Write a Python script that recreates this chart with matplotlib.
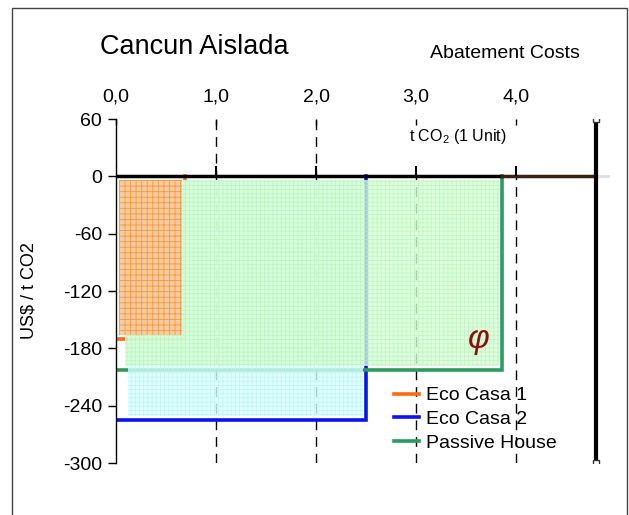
import matplotlib
matplotlib.use("Agg")
import matplotlib.pyplot as plt
from matplotlib.patches import Rectangle
from matplotlib.lines import Line2D

plt.rcParams['font.family'] = ['Liberation Sans', 'DejaVu Sans']
plt.rcParams['axes.unicode_minus'] = False
plt.rcParams['mathtext.fontset'] = 'custom'
plt.rcParams['mathtext.rm'] = 'Liberation Sans'
plt.rcParams['hatch.linewidth'] = 0.6

# data
series = ["Eco Casa 1", "Eco Casa 2", "Passive House"]
amount = [0.69, 2.50, 3.86]        # t CO2 (cumulative end of step)
cost = [-170, -255, -203]          # US$ / t CO2
line_col = ["#ff6a13", "#0a14f0", "#2e9a60"]
fill_col = ["#f9c89a", "#d6ffff", "#d4ffd4"]
hatch_col = ["#f5953a", "#bff2f0", "#bdf2bd"]
xticks = [0, 1, 2, 3, 4]
yticks = [-300, -240, -180, -120, -60, 0, 60]
x_end = 4.8

fig = plt.figure(figsize=(6.29, 5.15), dpi=100)
ax = fig.add_axes([116/629, 52/515, 500/629, 344/515])
ax.set_xlim(0, 5.0)
ax.set_ylim(-300, 60)

# dashed verticals
for t in xticks[1:]:
    top = 60 if t < 3 else 0
    ax.plot([t, t], [-300, top], color='black', lw=1, ls=(0, (7, 5)), zorder=1)

# step lines
for i in range(len(series)):
    ax.plot([0, amount[i], amount[i]], [cost[i], cost[i], 0],
            color=line_col[i], lw=2.6, zorder=2, solid_joinstyle='miter')

# pattern fills (drawn on top, like the original)
left_inset = [0.03, 0.12, 0.09]
for i in [1, 2, 0]:
    ax.fill_between([left_inset[i], amount[i] - 0.03], cost[i] + 4, -4,
                    facecolor=fill_col[i], edgecolor=hatch_col[i],
                    hatch='++++' if i else '+++', linewidth=0,
                    alpha=0.78 if i else 0.92, zorder=3)

# zero line and right border line
ax.plot([0, amount[2]], [0, 0], color='black', lw=2.5, zorder=4)
ax.plot([amount[2], x_end], [0, 0], color='#3a2010', lw=2.5, zorder=4)
ax.plot([x_end, 4.92], [0, 0], color='#dddddd', lw=2, zorder=4)
ax.vlines(xticks, 0, 11, color='black', lw=1.5, zorder=4)
ax.plot([x_end, x_end], [-300, 60], color='black', lw=3, zorder=5)
ax.plot([x_end, x_end], [-300, 60], ls='none', marker='s', ms=5,
        mfc='white', mec='#333333', mew=1, zorder=6)

# axes styling
for s in ['top', 'right', 'bottom']:
    ax.spines[s].set_visible(False)
ax.spines['left'].set_linewidth(1)
ax.set_yticks(yticks)
ax.set_yticklabels([str(v) for v in yticks])
ax.tick_params(axis='y', direction='out', length=6, width=1, labelsize=14, pad=4)
ax.xaxis.tick_top()
ax.set_xticks(xticks)
ax.set_xticklabels([f"{v:.1f}".replace('.', ',') for v in xticks])
ax.tick_params(axis='x', direction='in', length=4, width=1, labelsize=14, pad=9.5)
ax.set_ylabel(r'US\$ / t CO2', fontsize=13, labelpad=18)

# logo stand-in
ax.text(3.63, -171, 'φ', color='#8a1010', fontsize=24, style='italic',
        ha='center', va='center', zorder=6)

# texts
fig.text(100/629, 1 - 47/515, 'Cancun Aislada', fontsize=19.5, va='center')
fig.text(430/629, 1 - 53/515, 'Abatement Costs', fontsize=14, va='center')
fig.text(409/629, 1 - 136/515, r't CO$_\mathregular{2}$ (1 Unit)', fontsize=11.5, va='center')

handles = [Line2D([], [], color=c, lw=2.6) for c in line_col]
fig.legend(handles, series, loc='upper left', bbox_to_anchor=(386/629, 1 - 379/515),
           frameon=False, fontsize=14, handlelength=1.3, handletextpad=0.35,
           labelspacing=0.32, borderaxespad=0)

# outer frame
fig.patches.append(Rectangle((12/629, -0.05), 615/629, 1.05 - 8/515,
                             transform=fig.transFigure, fill=False,
                             edgecolor='#444444', lw=1))

fig.savefig('out.png', dpi=100)
